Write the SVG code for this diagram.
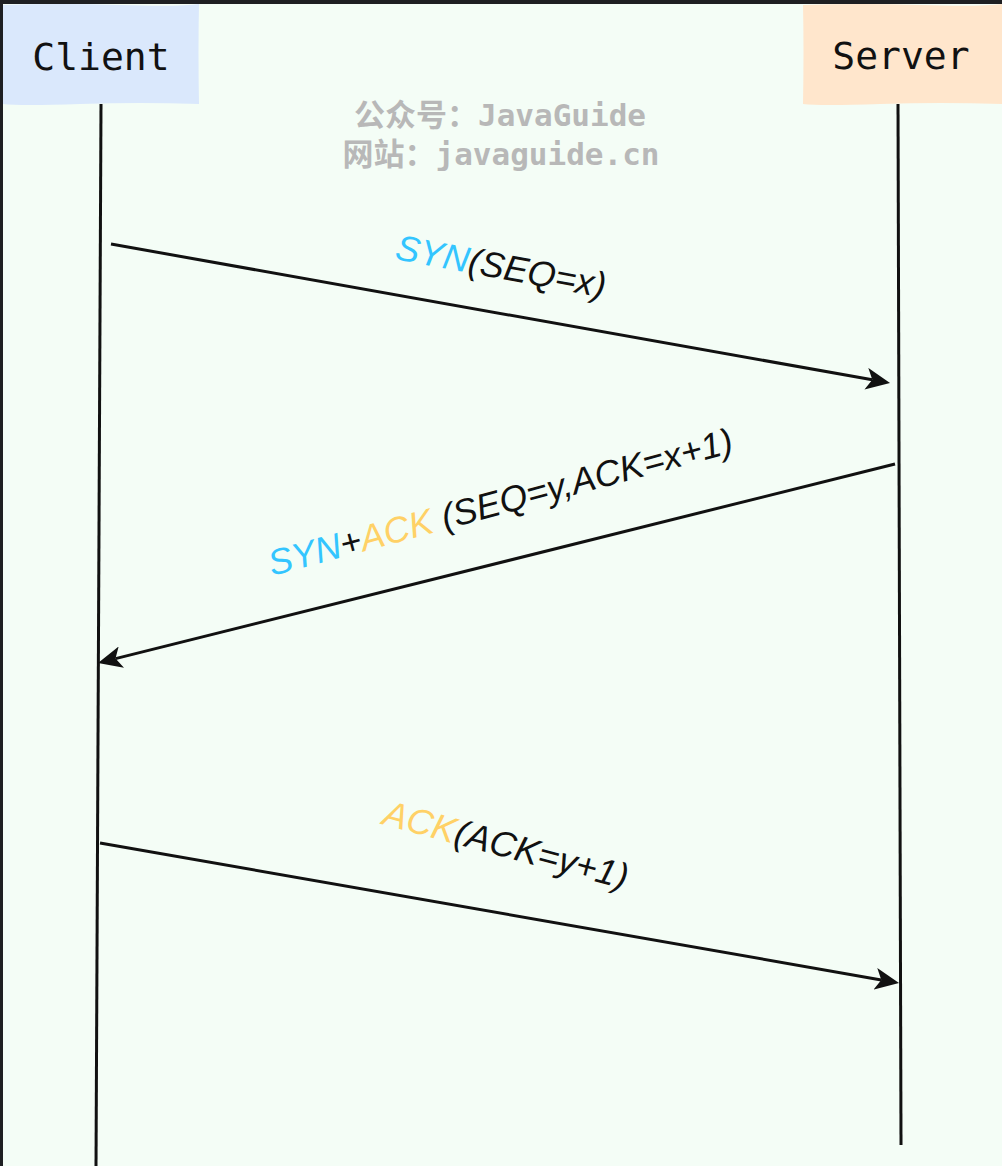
<svg xmlns="http://www.w3.org/2000/svg" width="1002" height="1166" viewBox="0 0 1002 1166">
  <style>
    .bg { fill: #f4fdf6; }
    .frame { fill: #1e1f22; }
    .title { font-family: "DejaVu Sans Mono", "Liberation Mono", monospace; font-size: 38px; fill: #111; text-anchor: middle; }
    .wm { font-family: "DejaVu Sans Mono", "Noto Sans CJK SC", monospace; font-weight: bold; font-size: 31px; fill: #b8b8b8; text-anchor: middle; }
    .life { stroke: #111; stroke-width: 3; fill: none; }
    .msg { stroke: #111; stroke-width: 3; fill: none; marker-end: url(#arrow); }
    .lbl { font-family: "Liberation Sans", Arial, Helvetica, sans-serif; font-style: italic; font-size: 36px; fill: #111; }
    .syn { fill: #33c5ff; }
    .ack { fill: #ffd166; }
  </style>
  <defs>
    <marker id="arrow" viewBox="0 0 24 22" refX="6" refY="11" markerWidth="24" markerHeight="22" markerUnits="userSpaceOnUse" orient="auto">
      <path d="M0,0 L24,11 L0,22 L6,11 Z" fill="#111"/>
    </marker>
  </defs>

  <rect class="bg" x="0" y="0" width="1002" height="1166"/>
  <rect class="frame" x="0" y="0" width="1002" height="4"/>
  <rect class="frame" x="0" y="0" width="3" height="1166"/>

  <g id="client">
    <path d="M3,5 Q60,3 120,5 T199,4 Q198,50 199,104 Q140,102 80,104 T3,104 Z" fill="#dae8fc"/>
    <text class="title" x="101" y="70">Client</text>
  </g>

  <g id="server">
    <path d="M803,5 Q860,3 920,5 T1002,4 L1002,104 Q940,102 880,104 T803,104 Q804,50 803,5 Z" fill="#ffe6cc"/>
    <text class="title" x="901" y="69">Server</text>
  </g>

  <g id="watermark">
    <text class="wm" x="500" y="126">公众号：JavaGuide</text>
    <text class="wm" x="501" y="165">网站：javaguide.cn</text>
  </g>

  <g id="connectors">
    <path class="life" d="M101,104 L96,1166"/>
    <path class="life" d="M898,104 L901,1145"/>
    <path class="msg" d="M111,244 L872.3,379.8"/>
    <path class="msg" d="M895,464 L115.5,658.6"/>
    <path class="msg" d="M100,843 L881.3,979.9"/>
  </g>

  <g id="labels">
    <text class="lbl" x="394" y="259" transform="rotate(10.5 394 259)"><tspan class="syn">SYN</tspan>(SEQ=x)</text>
    <text class="lbl" x="272" y="576" transform="rotate(-15 272 576)"><tspan class="syn">SYN</tspan>+<tspan class="ack">ACK</tspan> (SEQ=y,ACK=x+1)</text>
    <text class="lbl" x="381" y="824" transform="rotate(15 381 824)"><tspan class="ack">ACK</tspan>(ACK=y+1)</text>
  </g>
</svg>
